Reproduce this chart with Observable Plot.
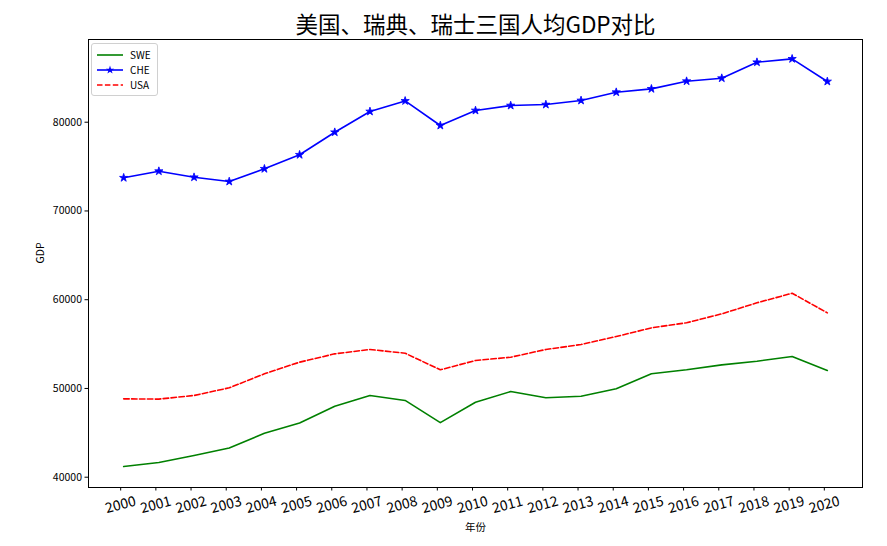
<!DOCTYPE html>
<html><head><meta charset="utf-8">
<script src="https://cdn.jsdelivr.net/npm/d3@7"></script>
<script src="https://cdn.jsdelivr.net/npm/@observablehq/plot@0.6"></script>
<style>
body{margin:0;background:#fff;}
#wrap{position:relative;width:887px;height:546px;font-family:"Noto Sans CJK SC",sans-serif;}
.legend{position:absolute;left:91px;top:43px;padding:3px 6px 3px 5px;border:1px solid #d0d0d0;border-radius:3px;background:rgba(255,255,255,0.85);font-size:10px;line-height:15px;}
.legend .row{display:flex;align-items:center;height:15px;}
.legend svg{margin-right:7px;}
</style></head><body><div id="wrap"></div>
<script>
const years = [2000,2001,2002,2003,2004,2005,2006,2007,2008,2009,2010,2011,2012,2013,2014,2015,2016,2017,2018,2019,2020];
const swe = [41200,41650,42450,43300,44950,46100,48000,49200,48650,46150,48450,49650,48950,49130,49960,51650,52100,52660,53070,53600,52020];
const che = [73740,74480,73800,73320,74750,76330,78870,81210,82400,79630,81320,81880,81990,82450,83380,83760,84620,84960,86760,87140,84590];
const usa = [48830,48800,49210,50070,51650,52960,53900,54390,53970,52100,53150,53520,54390,54950,55850,56830,57400,58410,59650,60730,58520];
const seriesNames = ["SWE","CHE","USA"];
const seriesColors = ["#008000","#0000ff","#ff0000"];
const yTicks = [40000,50000,60000,70000,80000];
const titleText = "美国、瑞典、瑞士三国人均GDP对比";
const xLabel = "年份";
const yLabel = "GDP";

const seriesValues = [swe, che, usa];
const rowsOf = (k) => years.map((yr, i) => ({year: yr, gdp: seriesValues[k][i], country: seriesNames[k]}));
const font = '"Noto Sans CJK SC", sans-serif';

const chart = Plot.plot({
  width: 887, height: 546,
  marginLeft: 88, marginRight: 25, marginTop: 39, marginBottom: 59,
  style: {fontFamily: font, fontSize: "10px", color: "#000", background: "#fff"},
  x: {domain: [1999, 2021]},
  y: {domain: [38840, 89320]},
  marks: [
    Plot.axisY({ticks: yTicks, tickSize: 3.5, tickPadding: 3, fontSize: 10.5, label: null, tickFormat: d => String(d)}),
    Plot.axisX({ticks: years, tickFormat: d => String(d), tickSize: 3.5, tickPadding: 14, dx: -3, tickRotate: -15, textAnchor: "middle", fontSize: 14, label: null}),
    Plot.line(rowsOf(0), {x: "year", y: "gdp", stroke: seriesColors[0], strokeWidth: 1.6}),
    Plot.line(rowsOf(1), {x: "year", y: "gdp", stroke: seriesColors[1], strokeWidth: 1.6}),
    Plot.dot(rowsOf(1), {x: "year", y: "gdp", symbol: "star", r: 2.6, fill: seriesColors[1], stroke: seriesColors[1], strokeWidth: 0.8}),
    Plot.line(rowsOf(2), {x: "year", y: "gdp", stroke: seriesColors[2], strokeWidth: 1.6, strokeDasharray: "5.5,2.4"}),
    Plot.frame({stroke: "#000", strokeWidth: 1}),
    Plot.text([titleText], {frameAnchor: "top", dy: -22, fontSize: 22.5, text: d => d, fill: "#000"}),
    Plot.text([xLabel], {frameAnchor: "bottom", dy: 43, fontSize: 10.5, text: d => d, fill: "#000"}),
    Plot.text([yLabel], {frameAnchor: "left", dx: -48, rotate: -90, fontSize: 10.5, text: d => d, fill: "#000"})
  ]
});
const wrap = document.getElementById("wrap");
wrap.appendChild(chart);

const legend = document.createElement("div");
legend.className = "legend";
seriesNames.forEach((name, k) => {
  const row = document.createElement("div");
  row.className = "row";
  const dash = k === 2 ? ' stroke-dasharray="5.5,2.4"' : '';
  const star = k === 1 ? `<path transform="translate(13,5)" d="${d3.symbol(d3.symbolStar, 22)()}" fill="${seriesColors[k]}"/>` : '';
  row.innerHTML = `<svg width="26" height="10"><line x1="0" x2="26" y1="5" y2="5" stroke="${seriesColors[k]}" stroke-width="1.6"${dash}/>${star}</svg><span>${name}</span>`;
  legend.appendChild(row);
});
wrap.appendChild(legend);
</script>
</body></html>
